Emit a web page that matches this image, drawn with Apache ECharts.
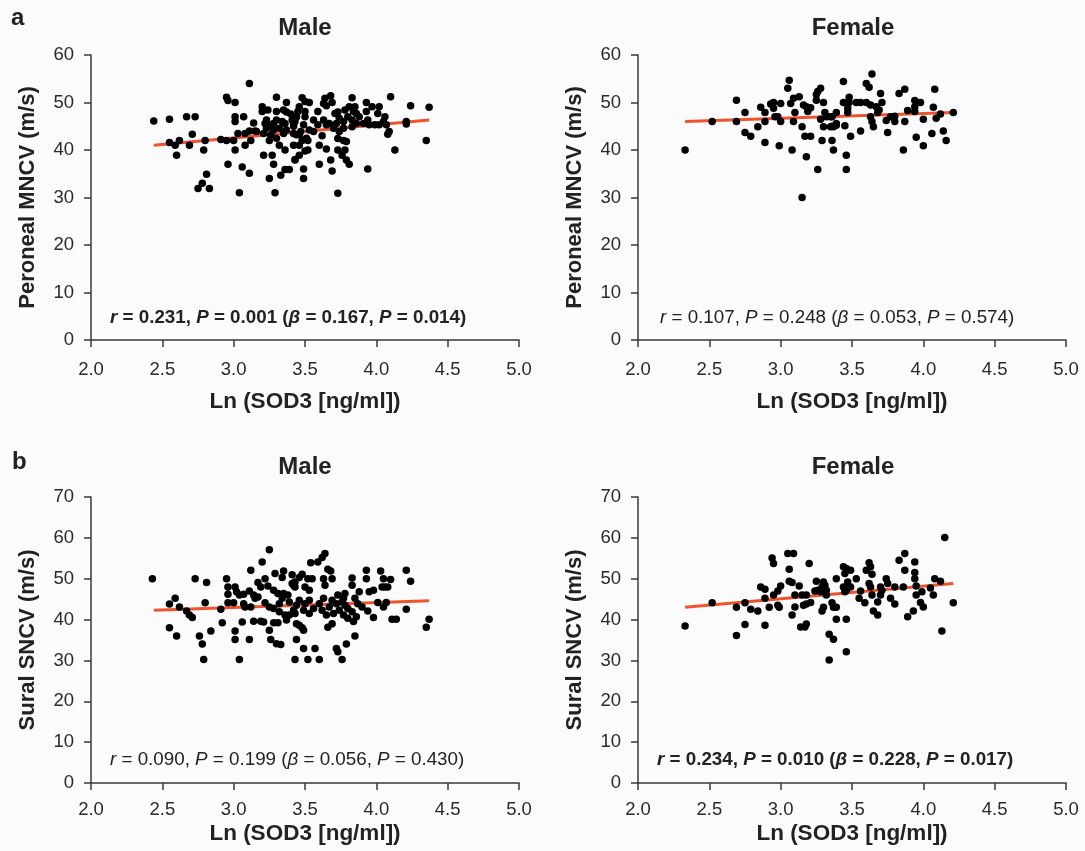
<!DOCTYPE html>
<html><head><meta charset="utf-8">
<script src="https://cdn.jsdelivr.net/npm/echarts@6/dist/echarts.min.js"></script>
<style>html,body{margin:0;padding:0;background:#fbfbfd;}#c{width:1085px;height:851px;}</style>
</head><body><div id="c"></div>
<script>
// ---- Data (Ln SOD3, velocity m/s) ----
const maleMNCV = [
[2.44,46.1],[2.55,46.5],[2.67,47.0],[2.73,47.0],[3.11,54.0],[2.95,51.1],[2.96,50.4],[3.01,50.0],[3.01,47.0],[3.07,47.0],[3.01,46.0],[3.14,45.7],[3.30,51.1],[3.37,50.0],[3.20,49.1],[3.20,48.1],[3.24,48.4],[3.30,48.1],[3.35,48.4],
[2.71,43.3],[2.55,41.6],[2.59,41.0],[2.62,42.0],[2.69,41.0],[2.60,38.9],[2.80,42.0],[2.79,40.0],[2.91,42.2],[2.95,42.0],[3.00,42.0],[3.03,43.5],[3.08,43.5],[3.11,44.0],[3.15,44.0],[3.12,42.0],[3.01,40.0],[3.08,41.0],[2.96,37.0],[3.06,36.4],[3.11,35.1],[2.81,34.9],[2.78,33.0],[2.75,31.9],[2.83,31.9],[3.04,31.0],[3.29,31.0],[3.21,38.9],[3.27,38.9],[3.28,37.0],[3.25,34.0],[3.33,34.7],[3.36,35.9],[3.39,35.9],[3.32,41.0],[3.36,40.0],[3.42,41.0],[3.43,37.9],[3.25,42.0],
[3.22,45.6],[3.23,46.3],[3.25,45.3],[3.28,45.6],[3.30,46.3],[3.34,46.0],[3.36,45.6],[3.41,46.3],[3.44,47.0],[3.42,45.6],[3.23,44.6],[3.28,44.2],[3.32,44.6],[3.35,43.5],[3.37,44.2],[3.42,43.5],[3.46,43.2],[3.26,43.2],[3.21,43.5],[3.16,43.9],[3.30,42.5],[3.37,48.0],[3.40,47.6],
[3.48,51.0],[3.64,50.9],[3.68,51.4],[3.69,50.0],[3.63,49.8],[3.65,49.3],[3.83,51.0],[3.93,50.0],[3.97,49.1],[4.02,49.1],[4.01,47.7],[4.06,47.0],[4.10,51.2],[4.24,49.3],[4.37,49.0],[4.21,46.0],[4.21,45.5],[4.09,43.9],[4.08,43.3],[4.35,42.0],[4.13,40.0],[3.94,36.0],[3.73,30.9],[3.69,35.6],[3.60,37.0],[3.49,36.0],[3.49,34.0],
[3.43,38.0],[3.46,38.9],[3.50,39.8],[3.52,40.0],[3.46,41.0],[3.48,42.0],[3.52,42.0],[3.60,41.0],[3.65,40.2],[3.73,40.0],[3.78,40.0],[3.76,38.9],[3.79,37.9],[3.81,37.0],[3.68,37.9],[3.73,42.4],[3.77,42.0],[3.79,41.8],[3.62,43.0],[3.59,48.1],
[3.50,50.2],[3.53,50.0],[3.46,49.1],[3.45,48.1],[3.50,48.1],[3.44,47.0],[3.50,47.0],[3.43,46.0],[3.49,45.3],[3.53,44.2],[3.56,43.9],[3.47,43.9],[3.44,43.2],[3.51,42.5],[3.42,45.0],[3.56,46.3],[3.59,45.3],
[3.71,47.7],[3.73,48.0],[3.81,49.1],[3.84,48.1],[3.86,47.7],[3.88,47.0],[3.80,47.0],[3.74,46.7],[3.77,46.0],[3.72,45.6],[3.83,46.3],[3.86,45.6],[3.91,45.6],[3.95,45.3],[3.99,45.3],[4.02,45.3],[3.67,45.6],[3.70,44.6],[3.77,44.6],[3.83,44.9],[3.74,43.9],[3.63,46.3],[3.65,45.3],[3.93,48.1],[3.94,46.3],[4.05,46.0],[4.07,45.3],[3.85,49.1],[3.78,48.4]
];
const femaleMNCV = [
[2.33,40.0],[2.52,46.0],[2.69,50.5],[2.69,46.0],[2.75,47.9],[2.75,43.7],[2.79,42.9],[2.84,44.9],[2.86,49.0],[2.89,47.9],[2.89,46.0],[2.89,41.6],[2.93,49.7],[2.95,50.0],[2.95,48.8],[3.00,49.8],[2.96,47.0],[2.98,47.0],[3.00,46.0],[2.99,40.9],[3.05,53.0],[3.06,54.7],[3.07,49.8],[3.09,50.9],[3.13,51.2],[3.10,47.9],[3.09,46.0],[3.08,40.0],[3.16,49.5],[3.18,49.1],[3.19,48.1],[3.21,48.9],[3.15,44.9],[3.17,42.9],[3.21,42.9],[3.18,38.6],[3.15,30.0],[3.26,35.9],[3.25,51.7],[3.26,52.3],[3.28,53.0],[3.25,50.5],[3.30,50.0],[3.28,46.5],[3.31,47.9],[3.32,47.0],[3.35,47.0],[3.39,47.9],[3.30,44.9],[3.35,44.9],[3.37,44.9],[3.29,42.0],[3.36,42.0],[3.37,40.0],
[3.64,56.0],[3.44,54.4],[3.60,54.0],[3.62,53.2],[3.70,51.9],[3.48,51.1],[3.44,50.0],[3.48,50.0],[3.47,48.8],[3.47,47.9],[3.53,50.0],[3.56,50.0],[3.60,50.0],[3.63,49.5],[3.67,49.1],[3.69,48.4],[3.71,50.0],[3.68,47.9],[3.36,47.0],[3.36,45.0],[3.39,45.2],[3.39,45.6],[3.45,45.1],[3.49,42.9],[3.56,44.0],[3.46,38.9],[3.46,35.9],[3.63,47.0],[3.64,46.0],[3.65,44.9],[3.74,46.2],[3.75,43.7],[3.77,47.0],[3.80,47.1],[3.80,46.0],[3.83,51.9],[3.87,52.8],[3.87,46.0],[3.86,40.0],[3.89,48.3],[3.94,50.4],[3.94,49.1],[3.94,48.1],[3.98,50.0],[4.00,46.5],[3.95,42.7],[4.00,40.9],[4.06,43.5],[4.08,52.8],[4.07,49.0],[4.09,46.7],[4.12,47.6],[4.14,44.0],[4.16,42.0],[4.21,47.9]
];
const maleSNCV = [
[2.43,50.0],[2.55,43.8],[2.59,45.2],[2.62,43.1],[2.67,42.1],[2.69,41.1],[2.71,40.5],[2.55,38.0],[2.60,36.0],[2.73,50.0],[2.81,49.1],[2.80,44.1],[2.76,36.0],[2.78,34.0],[2.84,37.2],[2.79,30.2],[2.91,42.5],[2.92,39.2],[2.95,50.0],[2.96,48.0],[2.96,46.2],[2.96,44.1],[3.00,44.1],
[3.01,48.0],[3.02,46.8],[3.04,46.0],[3.07,46.2],[3.07,43.9],[3.08,43.1],[3.12,43.1],[3.01,37.2],[3.01,35.1],[3.04,30.2],[3.06,39.4],[3.11,35.1],[3.12,52.1],
[3.11,47.0],[3.14,46.0],[3.15,45.2],[3.17,45.5],[3.14,39.6],[3.19,39.6],[3.21,39.4],[3.20,54.1],[3.25,57.1],
[3.17,49.1],[3.19,48.0],[3.22,50.0],[3.24,48.2],[3.22,44.1],[3.25,43.1],[3.28,42.7],[3.32,43.9],
[3.25,37.4],[3.26,35.1],[3.30,34.1],[3.33,33.9],[3.28,39.2],[3.31,39.2],[3.29,51.3],[3.35,51.9],[3.34,50.3],[3.41,51.0],[3.43,30.2],
[3.32,41.9],[3.36,41.1],[3.39,41.1],[3.42,42.3],[3.28,47.2],[3.31,46.4],[3.35,46.4],[3.38,46.0],[3.34,45.2],[3.39,44.3],[3.44,43.5],[3.37,39.9],[3.41,48.8],[3.43,48.0],
[3.64,56.2],[3.62,55.2],[3.59,54.1],[3.54,53.9],[3.66,52.3],[3.68,51.9],[3.93,52.1],[4.03,51.9],[4.21,52.1],[4.24,49.4],
[3.48,51.1],[3.46,50.3],[3.52,50.0],[3.55,50.0],[3.63,50.0],[3.69,50.0],[3.83,50.2],[3.93,50.0],[4.05,50.0],[4.10,49.8],
[3.43,49.2],[3.42,48.4],[3.50,48.0],[3.53,47.2],[3.64,48.4],[3.83,48.4],[3.88,46.8],[3.95,46.8],[3.98,47.2],[4.04,48.0],[4.06,48.0],[4.08,48.0],
[4.21,42.5],[4.37,40.1],[4.35,38.1],[4.11,40.1],[4.14,40.1],[4.07,44.2],[4.05,43.1],[4.01,44.2],[3.98,40.5],[3.94,42.1],[3.85,36.0],[3.79,34.0],[3.72,32.9],[3.73,32.1],[3.76,30.2],[3.57,32.9],[3.49,32.9],[3.44,35.1],[3.52,30.2],[3.60,30.2],[3.66,38.1],[3.69,39.0],
[3.49,37.4],[3.48,38.0],[3.46,38.6],[3.44,39.0],
[3.69,44.7],[3.72,43.9],[3.76,44.3],[3.78,43.5],[3.80,42.7],[3.83,41.9],[3.74,42.3],[3.77,41.1],[3.80,40.3],[3.84,39.5],[3.86,40.7],[3.70,41.5],[3.65,41.1],[3.62,42.3],[3.67,43.1],[3.73,46.0],[3.78,46.4],[3.77,45.2],[3.85,45.2],[3.87,43.9],[3.90,43.1],[3.63,45.2],[3.60,43.9],[3.53,44.7],[3.50,43.9],[3.46,44.7],[3.49,42.3],[3.43,41.5],[3.53,41.5],[3.56,42.7]
];
const femaleSNCV = [
[2.33,38.4],[2.52,44.1],[2.69,43.0],[2.69,36.1],[2.75,44.1],[2.75,38.8],[2.79,42.5],[2.84,42.1],[2.86,48.0],[2.89,47.4],[2.89,45.2],[2.89,38.6],[2.92,43.0],[2.95,46.0],[2.98,47.0],[3.00,48.2],[2.98,43.5],[2.99,43.0],[2.94,55.1],[2.95,53.7],[3.05,56.2],[3.09,56.2],[3.06,52.3],[3.06,49.4],[3.08,49.1],[3.10,46.0],[3.10,43.1],[3.08,41.1],[3.13,48.2],[3.15,46.0],[3.18,46.0],
[3.16,43.5],[3.18,43.8],[3.21,44.2],[3.14,38.2],[3.17,38.2],[3.18,38.9],[3.20,53.7],[3.25,49.4],
[3.24,47.0],[3.26,47.2],[3.29,48.0],[3.30,49.2],[3.31,48.4],[3.32,47.2],[3.32,46.0],[3.28,46.8],
[3.29,42.1],[3.30,43.0],[3.34,36.4],[3.37,35.2],[3.34,30.1],[3.36,44.1],[3.37,43.0],[3.39,43.0],[3.39,50.0],[3.39,40.1],
[4.15,60.1],[4.21,44.1],[4.13,37.2],[3.87,56.2],[3.83,54.5],[3.94,54.1],[3.87,52.1],[3.94,51.5],[3.94,50.0],[3.86,48.0],[3.95,48.2],[3.95,46.0],[3.99,46.8],[3.98,44.2],[4.00,43.1],[3.93,42.1],[3.89,40.7],[4.05,47.7],[4.08,50.0],[4.07,46.0],[4.12,49.4],
[3.62,53.9],[3.63,52.9],[3.60,52.1],[3.64,51.1],[3.62,48.8],[3.63,48.0],[3.64,46.0],[3.59,44.1],[3.55,45.2],[3.65,42.1],[3.68,41.1],[3.68,44.3],
[3.70,48.0],[3.71,47.2],[3.70,46.0],[3.74,50.0],[3.75,48.8],[3.77,45.2],[3.80,43.8],[3.80,48.0],[3.56,47.0],
[3.44,52.9],[3.46,52.5],[3.45,51.3],[3.49,52.1],[3.47,49.2],[3.44,48.0],[3.46,47.2],[3.45,46.8],[3.49,48.0],[3.53,50.0],[3.46,40.1],[3.46,32.1]
];
// regression line end points
const fitMaleMNCV = [[2.44,41.0],[4.37,46.3]];
const fitFemaleMNCV = [[2.33,46.0],[4.21,47.9]];
const fitMaleSNCV = [[2.44,42.3],[4.37,44.6]];
const fitFemaleSNCV = [[2.33,43.0],[4.21,48.8]];
const panelTitles = ['Male','Female','Male','Female'];
const stats = [
  '{i|r} = 0.231, {i|P} = 0.001 ({i|β} = 0.167, {i|P} = 0.014)',
  '{i|r} = 0.107, {i|P} = 0.248 ({i|β} = 0.053, {i|P} = 0.574)',
  '{i|r} = 0.090, {i|P} = 0.199 ({i|β} = 0.056, {i|P} = 0.430)',
  '{i|r} = 0.234, {i|P} = 0.010 ({i|β} = 0.228, {i|P} = 0.017)'
];
const statsBold = [true,false,false,true];

const FONT = '"Liberation Sans", Arial, Helvetica, sans-serif';
const grids = [
  {left:91, top:55, width:428, height:285, outerBoundsMode:'none', containLabel:false},
  {left:638, top:55, width:428, height:285, outerBoundsMode:'none', containLabel:false},
  {left:91, top:497, width:428, height:286, outerBoundsMode:'none', containLabel:false},
  {left:638, top:497, width:428, height:286, outerBoundsMode:'none', containLabel:false}
];
const yNames = ['Peroneal MNCV (m/s)','Peroneal MNCV (m/s)','Sural SNCV (m/s)','Sural SNCV (m/s)'];
const yMax = [60,60,70,70];
const xLabelMargin = [20,20,17,17];
const xNameGap = [50,50,39,39];
const axisLine = {lineStyle:{color:'#3a3a3a', width:1.5}};
const axisTick = {length:7, lineStyle:{color:'#3a3a3a', width:1.5}};
const axisLabel = {color:'#2a2a2a', fontSize:18.5, fontFamily:FONT};

const xAxes = grids.map((g,i)=>({
  gridIndex:i, type:'value', min:2, max:5, interval:0.5,
  axisLine, axisTick, splitLine:{show:false},
  axisLabel:Object.assign({margin:xLabelMargin[i], formatter:v=>v.toFixed(1)}, axisLabel),
  name:'Ln (SOD3 [ng/ml])', nameLocation:'middle', nameGap:xNameGap[i],
  nameTextStyle:{color:'#222', fontSize:22.5, fontWeight:'bold', fontFamily:FONT}
}));
const yAxes = grids.map((g,i)=>({
  gridIndex:i, type:'value', min:0, max:yMax[i], interval:10,
  axisLine:Object.assign({show:true},axisLine), axisTick:Object.assign({show:true},axisTick), splitLine:{show:false},
  axisLabel:Object.assign({margin:17}, axisLabel),
  name:yNames[i], nameLocation:'middle', nameGap:52,
  nameTextStyle:{color:'#222', fontSize:22, fontWeight:'bold', fontFamily:FONT}
}));
const scatterData = [maleMNCV, femaleMNCV, maleSNCV, femaleSNCV];
const fits = [fitMaleMNCV, fitFemaleMNCV, fitMaleSNCV, fitFemaleSNCV];
const series = [];
scatterData.forEach((d,i)=>{
  series.push({type:'line', xAxisIndex:i, yAxisIndex:i, data:fits[i], symbol:'none',
    lineStyle:{color:'#f0532a', width:3}, z:2, silent:true});
  series.push({type:'scatter', xAxisIndex:i, yAxisIndex:i, data:d, symbolSize:7.5,
    itemStyle:{color:'#000', opacity:1}, z:3});
});
const titlePos = [[305,28],[853,28],[305,467],[853,467]];
const statPos = [[110,318],[660,318],[110,760],[657,760]];
const graphic = [];
titlePos.forEach((p,i)=>graphic.push({type:'text', x:p[0], y:p[1],
  style:{text:panelTitles[i], fill:'#222', font:'bold 24px '+FONT, align:'center', verticalAlign:'middle'}}));
graphic.push({type:'text', x:11, y:18, style:{text:'a', fill:'#222', font:'bold 24px '+FONT, align:'left', verticalAlign:'middle'}});
graphic.push({type:'text', x:12, y:462, style:{text:'b', fill:'#222', font:'bold 24px '+FONT, align:'left', verticalAlign:'middle'}});
statPos.forEach((p,i)=>{
  const w = statsBold[i] ? 'bold' : 'normal';
  graphic.push({type:'text', x:p[0], y:p[1], z:10,
    style:{text:stats[i], fill:'#222', font:w+' 18.8px '+FONT, align:'left', verticalAlign:'middle',
      rich:{i:{fontStyle:'italic', fontWeight:w, fontSize:18.8, fontFamily:FONT, fill:'#222'}}}});
});
const chart = echarts.init(document.getElementById('c'), null, {renderer:'canvas'});
chart.setOption({
  backgroundColor:'#fbfbfd', animation:false,
  grid:grids, xAxis:xAxes, yAxis:yAxes, series, graphic
});
</script></body></html>
